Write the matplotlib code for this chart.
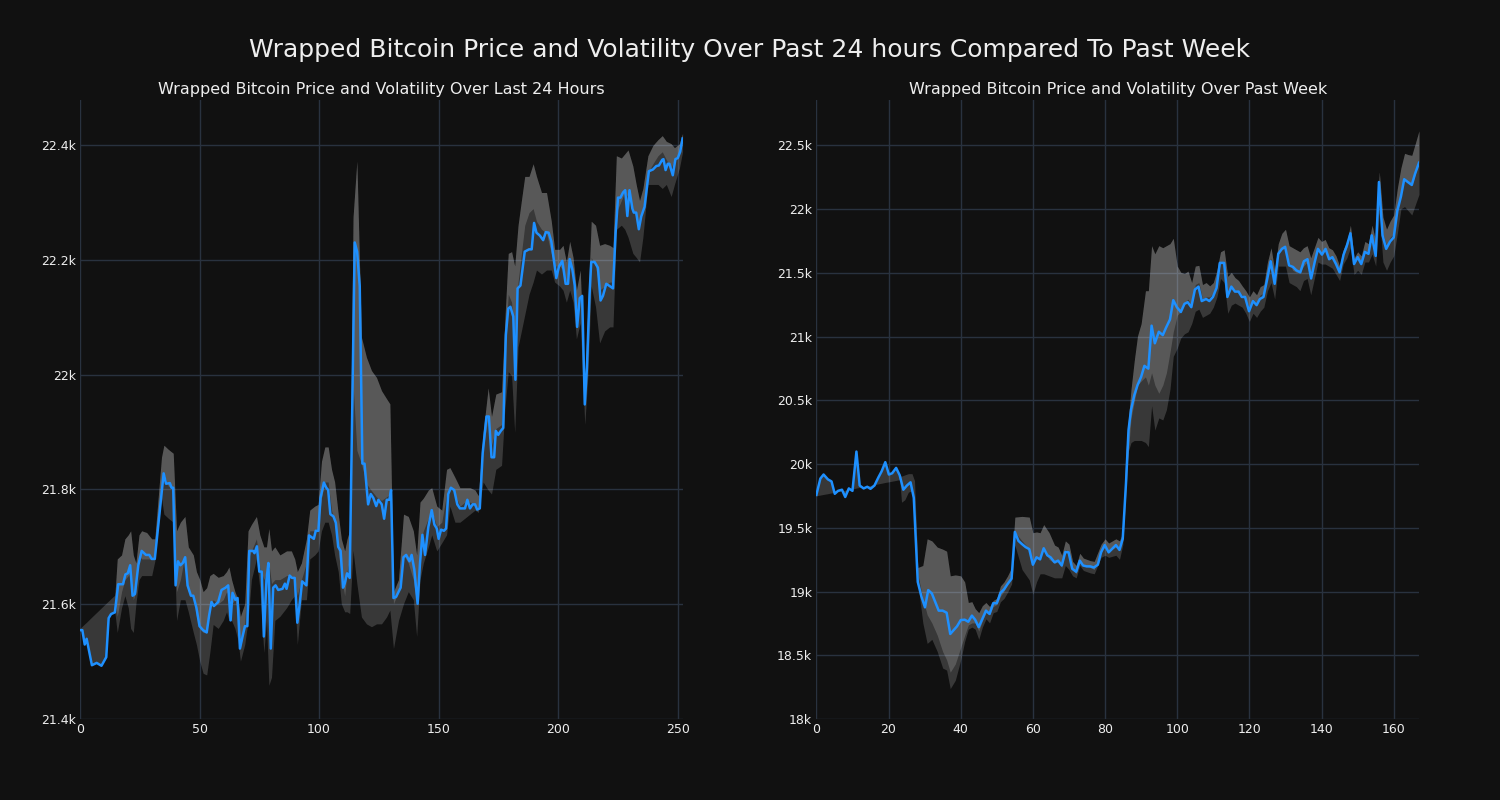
import matplotlib
matplotlib.use("Agg")
import matplotlib.pyplot as plt
from matplotlib.ticker import FuncFormatter

# ---------------- data ----------------
suptitle = "Wrapped Bitcoin Price and Volatility Over Past 24 hours Compared To Past Week"
day_title = "Wrapped Bitcoin Price and Volatility Over Last 24 Hours"
week_title = "Wrapped Bitcoin Price and Volatility Over Past Week"

# last 24 hours: (index, price)
day_points = [
    (0, 21555), (1, 21555), (2, 21530), (2.8, 21540), (5, 21494), (7, 21498), (9, 21493), (11, 21508),
    (12, 21576), (13, 21583), (14.6, 21586), (16, 21635), (18, 21635), (19, 21652), (20, 21654), (21, 21668),
    (22, 21615), (23, 21618), (24.4, 21668), (25.8, 21693), (27.6, 21686), (29, 21686), (30, 21679),
    (31.3, 21679), (33.4, 21764), (35, 21828), (36, 21810), (37.6, 21811), (38.3, 21803), (39, 21803),
    (40, 21633), (41, 21675), (42, 21668), (43, 21672), (44, 21682), (45, 21633), (46.4, 21615),
    (47.4, 21615), (48.7, 21594), (50, 21562), (51.5, 21555), (53, 21551), (54, 21580), (55, 21604),
    (56, 21597), (57.8, 21604), (59.2, 21625), (60.9, 21629), (62, 21633), (63, 21572), (63.8, 21620),
    (65, 21608), (65.9, 21611), (66.9, 21523), (68, 21544), (69, 21562), (70, 21562), (70.8, 21693),
    (72.4, 21693), (73, 21689), (74, 21701), (75, 21657), (76, 21657), (76.9, 21544), (78, 21643),
    (78.8, 21672), (79.8, 21523), (80.8, 21629), (81.8, 21633), (82.9, 21625), (84.7, 21627),
    (85.7, 21636), (86.4, 21627), (87.7, 21650), (88.7, 21646), (89.8, 21646), (90.9, 21568),
    (91.9, 21601), (92.9, 21640), (94.7, 21633), (95.8, 21720), (97.8, 21714), (98.6, 21728),
    (99.7, 21728), (100.6, 21785), (102, 21812), (103, 21803), (103.8, 21799), (104.7, 21757),
    (106, 21753), (107, 21742), (108, 21700), (109, 21693), (110, 21629), (110.7, 21636), (111.7, 21654),
    (112.8, 21646), (114.9, 22230), (115.9, 22214), (117, 22154), (118.1, 21845), (119, 21845),
    (120.5, 21774), (121.6, 21792), (122.7, 21785), (123.9, 21771), (124.8, 21782), (126.2, 21774),
    (127.2, 21749), (128.3, 21782), (129.4, 21782), (130.1, 21799), (131.1, 21611), (132.2, 21613),
    (134.1, 21629), (135.3, 21682), (136.4, 21686), (137.8, 21675), (138.7, 21686), (139.8, 21661),
    (141.2, 21601), (142.2, 21672), (143.2, 21721), (144.3, 21686), (145.7, 21735), (147.1, 21764),
    (148.2, 21739), (149.2, 21732), (150, 21714), (151, 21730), (152.2, 21728), (153.1, 21732),
    (154, 21792), (155.1, 21803), (156.5, 21799), (157.8, 21774), (158.9, 21767), (161, 21767),
    (162, 21782), (163.1, 21767), (164.2, 21774), (165.2, 21774), (166.1, 21765), (167.2, 21767),
    (168.4, 21863), (170, 21927), (171, 21927), (172.1, 21856), (173.2, 21856), (173.9, 21902),
    (174.9, 21895), (176, 21902), (177, 21907), (178.1, 22069), (179.1, 22115), (180, 22118),
    (181.2, 22101), (182.1, 21991), (183, 22150), (184.2, 22155), (186, 22214), (187.8, 22218),
    (188.9, 22218), (189.9, 22264), (190.9, 22247), (192.3, 22242), (193.7, 22234), (194.8, 22248),
    (196, 22247), (197.1, 22232), (198.3, 22196), (199.2, 22168), (200.3, 22188), (201.7, 22198),
    (203.1, 22158), (204.1, 22158), (204.8, 22201), (205.9, 22183), (206.9, 22155), (207.9, 22083),
    (209, 22133), (210, 22137), (211.1, 21948), (212, 22012), (213.1, 22140), (213.8, 22196),
    (215.2, 22196), (216.6, 22186), (217.7, 22129), (218.7, 22137), (220.1, 22158), (221.2, 22155),
    (222.9, 22150), (224, 22247), (225, 22308), (226, 22308), (227.1, 22317), (228, 22321),
    (228.9, 22276), (229.8, 22321), (231, 22289), (231.6, 22282), (232.6, 22282), (233.7, 22253),
    (234.7, 22275), (236.1, 22292), (237.9, 22354), (239.6, 22357), (241, 22363), (242.1, 22364),
    (243.5, 22374), (244, 22375), (244.9, 22356), (245.8, 22367), (246.5, 22367), (247.9, 22347),
    (249, 22375), (250, 22377), (251, 22388), (252, 22411),
]

# last 24 hours volatility band: (index, upper edge, light/dark boundary, lower edge)
day_band = [
    (0, 21558, 21558, 21555), (1, 21562, 21562, 21555), (2, 21566, 21566, 21530), (2.8, 21569, 21569, 21540),
    (5, 21578, 21578, 21494), (7, 21586, 21586, 21498), (9, 21594, 21594, 21493), (11, 21602, 21602, 21508),
    (12, 21606, 21606, 21576), (13, 21610, 21610, 21583), (14.6, 21616, 21616, 21586),
    (15.6, 21679, 21579, 21551), (17.4, 21686, 21622, 21594), (18.8, 21714, 21643, 21615),
    (20.2, 21721, 21650, 21594), (21.2, 21728, 21657, 21558), (22.3, 21686, 21608, 21551),
    (23.4, 21672, 21622, 21601), (24.7, 21721, 21686, 21643), (25.8, 21728, 21679, 21650),
    (27.9, 21725, 21679, 21650), (30, 21714, 21679, 21650), (31.3, 21714, 21679, 21675),
    (32.7, 21785, 21750, 21735), (34.1, 21856, 21813, 21785), (35.1, 21877, 21828, 21757),
    (36.9, 21870, 21806, 21750), (39, 21863, 21799, 21743), (40.4, 21728, 21622, 21572),
    (42, 21743, 21643, 21608), (43.9, 21753, 21686, 21608), (45.3, 21700, 21622, 21587),
    (47.4, 21686, 21615, 21551), (48.7, 21657, 21579, 21530), (50.1, 21643, 21558, 21501),
    (51.5, 21622, 21551, 21480), (53, 21629, 21551, 21477), (54.3, 21650, 21594, 21516),
    (55.7, 21654, 21608, 21565), (57.8, 21647, 21601, 21558), (59.9, 21650, 21608, 21572),
    (61.3, 21657, 21622, 21587), (62.3, 21665, 21615, 21572), (63.4, 21643, 21601, 21572),
    (64.8, 21622, 21608, 21558), (66.1, 21608, 21587, 21537), (67.1, 21579, 21523, 21501),
    (68.9, 21601, 21565, 21530), (70.3, 21728, 21679, 21572), (71.7, 21739, 21693, 21643),
    (73.8, 21753, 21714, 21679), (75.2, 21721, 21665, 21629), (76.9, 21700, 21643, 21516),
    (78, 21700, 21657, 21572), (79, 21732, 21672, 21459), (80.1, 21693, 21636, 21473),
    (81.5, 21700, 21643, 21572), (83.6, 21686, 21643, 21579), (86.4, 21693, 21650, 21594),
    (88.4, 21693, 21650, 21608), (89.8, 21679, 21643, 21615), (90.9, 21657, 21615, 21530),
    (92.6, 21672, 21643, 21608), (94.7, 21714, 21672, 21608), (96.1, 21764, 21728, 21679),
    (98.2, 21771, 21728, 21686), (99.6, 21774, 21735, 21693), (101, 21849, 21785, 21728),
    (102.4, 21874, 21813, 21743), (103.8, 21874, 21813, 21743), (105.2, 21835, 21764, 21721),
    (106.5, 21813, 21743, 21686), (108, 21757, 21693, 21657), (109.3, 21714, 21650, 21601),
    (110.7, 21693, 21615, 21587), (111.7, 21714, 21657, 21587), (112.8, 21729, 21680, 21584),
    (114.2, 22274, 21984, 21694), (115.8, 22372, 21868, 21636), (117.7, 22065, 21845, 21578),
    (119.8, 22030, 21810, 21566), (121.9, 22007, 21798, 21561), (124, 21995, 21787, 21566),
    (126.1, 21972, 21781, 21566), (128.2, 21958, 21787, 21578), (129.6, 21949, 21792, 21590),
    (131.1, 21622, 21601, 21523), (133.2, 21643, 21622, 21572), (135.3, 21757, 21686, 21601),
    (137.3, 21753, 21672, 21622), (139.4, 21728, 21643, 21608), (140.8, 21686, 21601, 21544),
    (142.2, 21778, 21700, 21643), (143.6, 21785, 21728, 21672), (145.7, 21799, 21750, 21700),
    (147.1, 21803, 21764, 21721), (149.2, 21771, 21735, 21693), (151.3, 21764, 21743, 21707),
    (153.3, 21835, 21792, 21721), (154.7, 21838, 21806, 21771), (156.8, 21821, 21792, 21743),
    (158.9, 21803, 21771, 21743), (161, 21803, 21778, 21750), (163.1, 21803, 21778, 21757),
    (165.2, 21799, 21774, 21764), (166.6, 21789, 21767, 21760), (168.6, 21899, 21870, 21813),
    (170.7, 21977, 21927, 21799), (172.1, 21927, 21877, 21792), (173.9, 21966, 21906, 21835),
    (176.3, 21970, 21913, 21842), (177.7, 22097, 22040, 21941), (179.1, 22211, 22140, 22005),
    (180.5, 22214, 22126, 21998), (181.8, 22189, 22055, 21899), (183.2, 22260, 22161, 22048),
    (184.6, 22303, 22211, 22076), (186, 22345, 22260, 22104), (187.8, 22345, 22282, 22140),
    (189.5, 22367, 22289, 22161), (190.9, 22345, 22267, 22182), (193, 22317, 22253, 22175),
    (195.1, 22317, 22246, 22182), (197.1, 22267, 22211, 22182), (198.5, 22218, 22189, 22161),
    (200.6, 22218, 22189, 22154), (202, 22225, 22182, 22147), (203.4, 22196, 22161, 22126),
    (204.8, 22232, 22204, 22147), (206.2, 22204, 22168, 22126), (207.6, 22147, 22111, 22062),
    (209.2, 22182, 22140, 22090), (211.1, 21984, 21955, 21913), (212.4, 22118, 22040, 21998),
    (213.8, 22267, 22204, 22154), (215.6, 22260, 22189, 22118), (217.3, 22225, 22147, 22055),
    (219.4, 22228, 22154, 22076), (221.5, 22225, 22161, 22083), (222.9, 22221, 22161, 22083),
    (224.3, 22381, 22282, 22253), (226.4, 22377, 22303, 22260), (227.8, 22384, 22317, 22253),
    (229.2, 22391, 22310, 22239), (231.2, 22363, 22289, 22211), (232.6, 22331, 22274, 22204),
    (234, 22303, 22260, 22196), (235.4, 22324, 22289, 22239), (237.5, 22381, 22352, 22331),
    (239.6, 22399, 22367, 22331), (241.7, 22409, 22381, 22331), (243.5, 22416, 22388, 22324),
    (245.2, 22406, 22374, 22331), (247.2, 22402, 22360, 22310), (248.6, 22395, 22374, 22331),
    (250.7, 22402, 22388, 22360), (252, 22420, 22411, 22388),
]

# past week: (hour index, price)
week_points = [
    (0, 19758), (1.1, 19886), (2, 19918), (3.2, 19880), (4.2, 19864), (5.1, 19767), (6, 19790),
    (7.1, 19799), (8, 19742), (9, 19809), (10, 19790), (11.1, 20098), (12, 19832), (13.1, 19809),
    (14.1, 19822), (15, 19806), (16.1, 19832), (17.2, 19896), (18.1, 19944), (19.1, 20015),
    (20.1, 19918), (21, 19928), (22.1, 19970), (23.1, 19912), (24.1, 19799), (25.1, 19832),
    (26.1, 19857), (27, 19735), (28.1, 19076), (29.1, 18963), (30.1, 18877), (31, 19012), (32, 18986),
    (33, 18915), (33.9, 18851), (35, 18851), (36.1, 18835), (37.1, 18668), (38, 18697), (39, 18729),
    (40, 18777), (41.1, 18780), (42.1, 18764), (43.1, 18812), (44, 18780), (45, 18722), (46, 18787),
    (47, 18851), (48, 18825), (49, 18909), (50, 18909), (51, 18989), (52, 19018), (53, 19060),
    (54.1, 19102), (55, 19468), (56, 19398), (57, 19372), (58, 19349), (59, 19333), (60, 19211),
    (61, 19269), (62, 19253), (63, 19340), (64, 19285), (64.9, 19269), (66, 19230), (67, 19243),
    (68, 19205), (69, 19311), (69.9, 19308), (70.9, 19179), (72, 19156), (73, 19243), (73.9, 19205),
    (74.9, 19198), (75.9, 19198), (76.9, 19189), (78, 19211), (78.9, 19308), (79.9, 19365),
    (81, 19308), (82.1, 19340), (83, 19365), (84, 19327), (84.9, 19414), (85.8, 19848), (86.5, 20266),
    (87.2, 20426), (88.1, 20539), (89, 20619), (90, 20684), (90.9, 20770), (92, 20748), (92.9, 21085),
    (93.8, 20947), (94.9, 21037), (96, 21011), (96.9, 21069), (98, 21134), (98.9, 21285),
    (99.9, 21230), (101, 21192), (102, 21256), (102.9, 21269), (103.9, 21230), (104.9, 21368),
    (105.9, 21391), (106.8, 21278), (108, 21294), (108.9, 21278), (109.9, 21310), (110.9, 21381),
    (111.8, 21577), (113, 21577), (113.9, 21310), (115, 21391), (116, 21352), (117, 21352),
    (117.9, 21310), (118.8, 21310), (119.9, 21198), (121, 21278), (122, 21246), (122.9, 21294),
    (123.9, 21310), (124.9, 21445), (125.9, 21590), (127, 21413), (128, 21648), (129, 21687),
    (129.9, 21703), (131, 21558), (132.1, 21545), (133, 21519), (134.1, 21503), (135.1, 21590),
    (136.1, 21606), (137.1, 21455), (138.1, 21584), (139, 21687), (140.1, 21642), (141.1, 21687),
    (142.1, 21606), (143, 21622), (144, 21568), (145, 21503), (146.1, 21642), (147, 21712),
    (148, 21809), (149, 21568), (150, 21622), (151, 21568), (152, 21664), (153, 21648),
    (153.9, 21793), (155, 21632), (155.9, 22211), (156.9, 21793), (157.9, 21687), (159, 21745),
    (160, 21777), (161, 21986), (162, 22098), (162.9, 22233), (163.9, 22211), (165, 22188),
    (165.9, 22275), (167, 22362),
]

# past week volatility band: (hour index, upper edge, light/dark boundary, lower edge)
week_band = [
    (0, 19758, 19758, 19752), (1.1, 19886, 19886, 19757), (2, 19918, 19918, 19762),
    (3.2, 19880, 19880, 19768), (4.2, 19864, 19864, 19774), (5.1, 19767, 19767, 19779),
    (6, 19790, 19790, 19784), (7.1, 19799, 19799, 19790), (8, 19742, 19742, 19795),
    (9, 19809, 19809, 19800), (10, 19790, 19790, 19805), (11.1, 20098, 20098, 19812),
    (12, 19832, 19832, 19817), (13.1, 19809, 19809, 19823), (14.1, 19822, 19822, 19828),
    (15, 19806, 19806, 19833), (16.1, 19832, 19832, 19839), (17.2, 19896, 19896, 19845),
    (18.1, 19944, 19944, 19850), (19.1, 20015, 20015, 19856), (20.1, 19918, 19918, 19861),
    (21, 19928, 19928, 19866), (22.1, 19970, 19970, 19872), (23.1, 19912, 19912, 19878),
    (23.6, 19905, 19905, 19701), (24.5, 19915, 19915, 19720), (25.5, 19925, 19925, 19780),
    (26.5, 19925, 19925, 19790), (27.2, 19870, 19870, 19700),
    (28.1, 19189, 19140, 19076), (29.5, 19205, 18947, 18755), (30.7, 19414, 18819, 18594),
    (32, 19398, 18755, 18626), (33.5, 19349, 18658, 18530), (35, 19333, 18530, 18401),
    (36.1, 19317, 18465, 18385), (37.1, 19124, 18369, 18240), (38.5, 19131, 18433, 18305),
    (40, 19124, 18562, 18465), (41.1, 19076, 18658, 18610), (42.1, 18915, 18739, 18706),
    (43.1, 18921, 18755, 18722), (44, 18867, 18755, 18706), (45, 18835, 18690, 18626),
    (46, 18890, 18771, 18722), (47, 18915, 18835, 18787), (48, 18883, 18819, 18755),
    (49, 18931, 18883, 18835), (50, 18947, 18899, 18845), (51, 19044, 18963, 18921),
    (52, 19076, 19005, 18947), (53, 19124, 19060, 18996), (54.1, 19189, 19108, 19060),
    (55, 19584, 19468, 19365), (57, 19590, 19398, 19173), (59, 19584, 19333, 19092),
    (60, 19462, 19237, 18979), (61, 19468, 19269, 19076), (62, 19462, 19269, 19140),
    (63, 19526, 19333, 19140), (64.5, 19462, 19253, 19124), (66, 19365, 19221, 19108),
    (67, 19349, 19237, 19108), (68, 19285, 19189, 19108), (69, 19398, 19333, 19205),
    (70, 19372, 19301, 19173), (71, 19237, 19173, 19124), (72, 19205, 19140, 19108),
    (73, 19301, 19237, 19205), (74, 19263, 19205, 19166), (75.9, 19243, 19189, 19147),
    (77, 19237, 19173, 19140), (78.9, 19372, 19317, 19269), (80, 19414, 19349, 19285),
    (81, 19381, 19317, 19269), (83, 19414, 19349, 19285), (84, 19398, 19333, 19253),
    (84.9, 19462, 19414, 19365), (85.8, 20105, 19912, 19783), (86.5, 20362, 20105, 20105),
    (87.2, 20587, 20362, 20169), (88.1, 20812, 20491, 20185), (89, 21005, 20619, 20185),
    (90, 21101, 20651, 20185), (91.2, 21359, 20684, 20169), (92, 21359, 20619, 20137),
    (92.9, 21712, 20716, 20458), (93.8, 21648, 20619, 20266), (94.9, 21712, 20555, 20362),
    (96, 21696, 20619, 20346), (97, 21712, 20716, 20426), (98, 21728, 20877, 20587),
    (98.9, 21770, 21037, 20844), (100, 21552, 21166, 20909), (101, 21503, 21198, 20989),
    (102, 21494, 21262, 21021), (103, 21513, 21294, 21037), (104, 21423, 21230, 21101),
    (105, 21552, 21407, 21198), (106, 21558, 21423, 21214), (107, 21407, 21294, 21150),
    (108, 21423, 21310, 21166), (109, 21397, 21310, 21182), (110, 21423, 21342, 21230),
    (111, 21519, 21423, 21310), (112, 21664, 21584, 21455), (113, 21680, 21584, 21423),
    (114, 21471, 21327, 21182), (115, 21503, 21397, 21246), (116, 21462, 21365, 21262),
    (117, 21439, 21359, 21246), (118, 21397, 21327, 21230), (119, 21359, 21294, 21182),
    (120, 21310, 21230, 21118), (121, 21359, 21294, 21182), (122, 21327, 21262, 21150),
    (123, 21391, 21327, 21198), (124, 21407, 21342, 21230), (125, 21584, 21487, 21359),
    (126, 21696, 21616, 21423), (127, 21519, 21423, 21294), (128, 21728, 21648, 21552),
    (129, 21809, 21680, 21552), (130, 21841, 21696, 21552), (131, 21712, 21584, 21423),
    (132, 21696, 21519, 21407), (133, 21680, 21503, 21391), (134, 21664, 21503, 21359),
    (135, 21696, 21552, 21439), (136, 21712, 21584, 21455), (137, 21616, 21455, 21327),
    (138, 21696, 21584, 21455), (139, 21777, 21680, 21584), (140, 21745, 21648, 21568),
    (141, 21761, 21680, 21568), (142, 21696, 21616, 21552), (143, 21680, 21616, 21535),
    (144, 21632, 21568, 21487), (145, 21552, 21503, 21439), (146, 21680, 21632, 21568),
    (147, 21745, 21696, 21616), (148, 21873, 21809, 21696), (149, 21616, 21568, 21487),
    (150, 21664, 21616, 21519), (151, 21632, 21568, 21487), (152, 21745, 21680, 21584),
    (153, 21728, 21664, 21584), (154, 21873, 21793, 21648), (155, 21745, 21648, 21552),
    (156, 22291, 22195, 21970), (157, 21937, 21809, 21584), (158, 21841, 21712, 21519),
    (159, 21905, 21777, 21584), (160, 21953, 21809, 21632), (161, 22162, 22002, 21809),
    (162, 22323, 22130, 22002), (163, 22436, 22243, 22018), (164, 22426, 22211, 21986),
    (165, 22420, 22188, 21953), (166, 22516, 22275, 22034), (167, 22613, 22371, 22114),
]

day_xticks = [0, 50, 100, 150, 200, 250]
day_yticks = [21400, 21600, 21800, 22000, 22200, 22400]
week_xticks = [0, 20, 40, 60, 80, 100, 120, 140, 160]
week_yticks = [18000, 18500, 19000, 19500, 20000, 20500, 21000, 21500, 22000, 22500]

# ---------------- style ----------------
BG = "#111111"
GRID = "#29323f"
LINE = "#1e90ff"
TEXT = "#eeeeee"
BAND_ALPHA = 0.165

plt.rcParams["font.family"] = ["DejaVu Sans"]

fig = plt.figure(figsize=(15, 8), dpi=100, facecolor=BG)
axes = fig.subplots(1, 2)
fig.subplots_adjust(left=0.0533, right=0.946, top=0.875, bottom=0.101, wspace=0.222)


def kfmt(v, _pos):
    return f"{v / 1000:g}k"


def draw(ax, points, band, title, xticks, yticks, xlim, ylim):
    ax.set_facecolor(BG)
    bx = [b[0] for b in band]
    hi = [b[1] for b in band]
    mid = [b[2] for b in band]
    lo = [b[3] for b in band]
    ax.fill_between(bx, lo, hi, color="white", alpha=BAND_ALPHA, linewidth=0, zorder=2)
    ax.fill_between(bx, mid, hi, color="white", alpha=BAND_ALPHA, linewidth=0, zorder=2)
    px = [p[0] for p in points]
    py = [p[1] for p in points]
    ax.plot(px, py, color=LINE, linewidth=1.8, zorder=3)
    ax.set_xlim(*xlim)
    ax.set_ylim(*ylim)
    ax.set_xticks(xticks)
    ax.set_yticks(yticks)
    ax.yaxis.set_major_formatter(FuncFormatter(kfmt))
    ax.grid(True, color=GRID, linewidth=1.0, zorder=0)
    ax.set_axisbelow(True)
    for s in ax.spines.values():
        s.set_visible(False)
    ax.tick_params(length=0, colors=TEXT, labelsize=9, pad=3)
    ax.set_title(title, color=TEXT, fontsize=11.5, pad=4)


draw(axes[0], day_points, day_band, day_title, day_xticks, day_yticks, (0, 252), (21400, 22478))
draw(axes[1], week_points, week_band, week_title, week_xticks, week_yticks, (0, 167), (18000, 22854))

fig.suptitle(suptitle, color=TEXT, fontsize=18, y=0.952)

fig.savefig("out.png", dpi=100, facecolor=BG)
